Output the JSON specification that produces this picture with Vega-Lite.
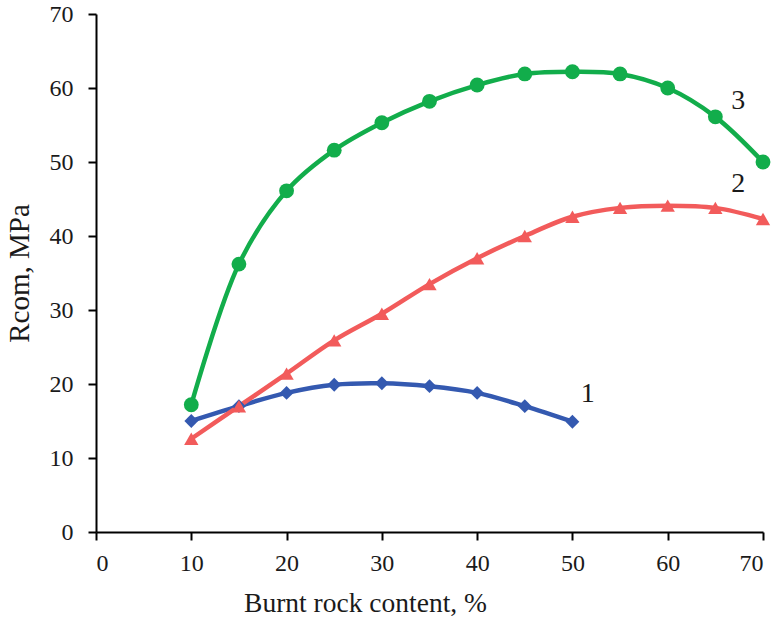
{
  "$schema": "https://vega.github.io/schema/vega-lite/v6.json",
  "width": 667,
  "height": 518,
  "autosize": "none",
  "padding": {"left": 96, "top": 14, "right": 14, "bottom": 89},
  "background": "white",
  "config": {
    "view": {"stroke": null},
    "axis": {
      "grid": false,
      "domainColor": "black",
      "domainWidth": 2,
      "tickColor": "black",
      "tickWidth": 2,
      "tickSize": 8
    }
  },
  "datasets": {
    "pts": [
      {"s": "1", "x": 10, "y": 15.0}, {"s": "1", "x": 15, "y": 17.0}, {"s": "1", "x": 20, "y": 18.8},
      {"s": "1", "x": 25, "y": 19.9}, {"s": "1", "x": 30, "y": 20.1}, {"s": "1", "x": 35, "y": 19.7},
      {"s": "1", "x": 40, "y": 18.8}, {"s": "1", "x": 45, "y": 17.0}, {"s": "1", "x": 50, "y": 14.9},
      {"s": "2", "x": 10, "y": 12.6}, {"s": "2", "x": 15, "y": 17.0}, {"s": "2", "x": 20, "y": 21.4},
      {"s": "2", "x": 25, "y": 25.9}, {"s": "2", "x": 30, "y": 29.5}, {"s": "2", "x": 35, "y": 33.5},
      {"s": "2", "x": 40, "y": 37.0}, {"s": "2", "x": 45, "y": 40.0}, {"s": "2", "x": 50, "y": 42.6},
      {"s": "2", "x": 55, "y": 43.8}, {"s": "2", "x": 60, "y": 44.1}, {"s": "2", "x": 65, "y": 43.8},
      {"s": "2", "x": 70, "y": 42.3},
      {"s": "3", "x": 10, "y": 17.2}, {"s": "3", "x": 15, "y": 36.2}, {"s": "3", "x": 20, "y": 46.1},
      {"s": "3", "x": 25, "y": 51.6}, {"s": "3", "x": 30, "y": 55.3}, {"s": "3", "x": 35, "y": 58.2},
      {"s": "3", "x": 40, "y": 60.4}, {"s": "3", "x": 45, "y": 61.9}, {"s": "3", "x": 50, "y": 62.2},
      {"s": "3", "x": 55, "y": 61.9}, {"s": "3", "x": 60, "y": 60.0}, {"s": "3", "x": 65, "y": 56.1},
      {"s": "3", "x": 70, "y": 50.0}
    ],
    "labels": [
      {"t": "1", "x": 51.6, "y": 18.6},
      {"t": "2", "x": 67.4, "y": 47.0},
      {"t": "3", "x": 67.4, "y": 58.2}
    ]
  },
  "layer": [
    {
      "data": {"name": "pts"},
      "mark": {"type": "line", "interpolate": "catmull-rom", "strokeWidth": 4.5},
      "encoding": {
        "x": {"field": "x", "type": "quantitative", "scale": {"domain": [0, 70], "nice": false},
          "axis": {"values": [0,10,20,30,40,50,60,70], "title": "Burnt rock content, %",
            "labelFont": "Liberation Serif", "labelFontSize": 24, "labelColor": "#1a1a1a", "labelPadding": 11,
            "titleFont": "Liberation Serif", "titleFontSize": 27.5, "titleFontWeight": "normal", "titleColor": "#1a1a1a",
            "titlePadding": 14, "titleX": 269, "titleAlign": "center"}},
        "y": {"field": "y", "type": "quantitative", "scale": {"domain": [0, 70], "nice": false},
          "axis": {"values": [0,10,20,30,40,50,60,70], "title": "Rcom, MPa",
            "labelFont": "Liberation Serif", "labelFontSize": 24, "labelColor": "#1a1a1a", "labelPadding": 15,
            "titleFont": "Liberation Serif", "titleFontSize": 29, "titleFontWeight": "normal", "titleColor": "#1a1a1a",
            "titlePadding": 15}},
        "color": {"field": "s", "type": "nominal", "scale": {"domain": ["1","2","3"], "range": ["#3459b0", "#f25b5b", "#12ad4b"]}, "legend": null}
      }
    },
    {
      "data": {"name": "pts"},
      "mark": {"type": "point", "filled": true, "opacity": 1},
      "encoding": {
        "x": {"field": "x", "type": "quantitative"},
        "y": {"field": "y", "type": "quantitative"},
        "color": {"field": "s", "type": "nominal", "legend": null},
        "shape": {"field": "s", "type": "nominal", "scale": {"domain": ["1","2","3"], "range": ["diamond", "triangle-up", "circle"]}, "legend": null},
        "size": {"field": "s", "type": "nominal", "scale": {"domain": ["1","2","3"], "range": [190, 220, 125]}, "legend": null}
      }
    },
    {
      "data": {"name": "labels"},
      "mark": {"type": "text", "font": "Liberation Serif", "fontSize": 28, "color": "#1a1a1a"},
      "encoding": {
        "x": {"field": "x", "type": "quantitative"},
        "y": {"field": "y", "type": "quantitative"},
        "text": {"field": "t"}
      }
    }
  ]
}
